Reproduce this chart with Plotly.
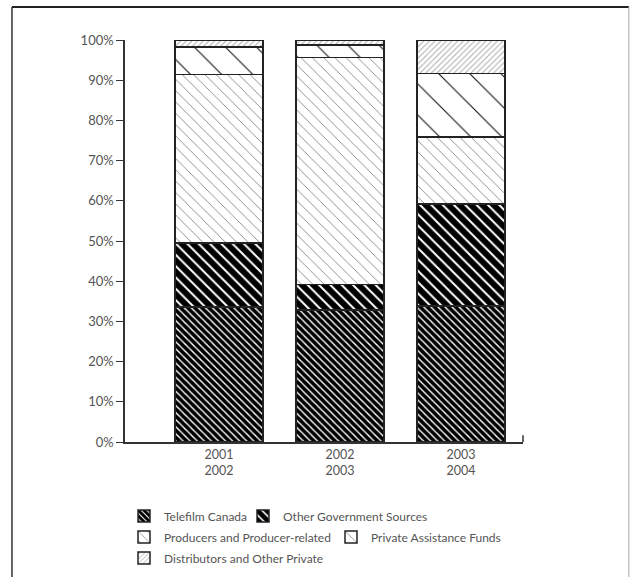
import plotly.graph_objects as go

categories = ["2001<br>2002", "2002<br>2003", "2003<br>2004"]
telefilm = [33.6, 32.8, 33.8]
other_gov = [15.9, 6.4, 25.4]
producers = [41.9, 56.5, 16.7]
private_funds = [6.9, 3.1, 15.8]
distributors = [1.7, 1.2, 8.3]
y_ticks = [0, 10, 20, 30, 40, 50, 60, 70, 80, 90, 100]
y_tick_text = [f"{v}%" for v in y_ticks]

series = [
    ("Telefilm Canada", telefilm, dict(shape="\\", size=5, solidity=0.72, fgcolor="#000000", bgcolor="white", fgopacity=1), "legend"),
    ("Other Government Sources", other_gov, dict(shape="\\", size=8, solidity=0.75, fgcolor="#000000", bgcolor="white", fgopacity=1), "legend2"),
    ("Producers and Producer-related", producers, dict(shape="\\", size=8, solidity=0.1, fgcolor="#777777", bgcolor="white", fgopacity=1), "legend3"),
    ("Private Assistance Funds", private_funds, dict(shape="\\", size=22, solidity=0.05, fgcolor="#111111", bgcolor="white", fgopacity=1), "legend4"),
    ("Distributors and Other Private", distributors, dict(shape="/", size=4, solidity=0.28, fgcolor="#b0b0b0", bgcolor="white", fgopacity=1), "legend5"),
]

fig = go.Figure()
for name, vals, pat, leg in series:
    fig.add_trace(go.Bar(
        x=[0, 1, 2], y=vals, name=name,
        marker=dict(color="white", pattern=pat, line=dict(color="#222222", width=1.5)),
        legend=leg,
    ))

font_family = "Lato, 'Open Sans', Arial, sans-serif"
W, H = 630, 577


def leg(xpx, ypx):
    return dict(orientation="h", xref="container", yref="container",
                x=xpx / W, y=1 - ypx / H, xanchor="left", yanchor="middle",
                font=dict(size=12, color="#555555"), bgcolor="rgba(0,0,0,0)")


fig.update_layout(
    width=W, height=H,
    barmode="stack", bargap=0.273,
    plot_bgcolor="white", paper_bgcolor="white",
    margin=dict(l=125, r=107, t=40, b=135),
    font=dict(family=font_family, size=13, color="#555555"),
    showlegend=True,
    legend=leg(124, 516),
    legend2=leg(243, 516),
    legend3=leg(124, 537),
    legend4=leg(331, 537),
    legend5=leg(124, 558),
    xaxis=dict(
        range=[-0.777, 2.512], tickvals=[0, 1, 2], ticktext=categories,
        showline=True, linecolor="#333333", linewidth=1.5, ticks="",
        showgrid=False, zeroline=False, fixedrange=True,
        tickfont=dict(size=12.5, color="#555555"),
    ),
    yaxis=dict(
        range=[0, 100], tickvals=y_ticks, ticktext=y_tick_text,
        showline=True, linecolor="#333333", linewidth=1.5,
        ticks="outside", ticklen=7, tickcolor="#333333", tickwidth=1.2,
        showgrid=False, zeroline=False, fixedrange=True,
        tickfont=dict(size=13, color="#555555"),
    ),
    shapes=[
        dict(type="line", xref="paper", yref="paper", x0=1, x1=1, y0=0, y1=0.017,
             line=dict(color="#333333", width=1.5)),
        dict(type="line", xref="paper", yref="paper", x0=-0.284, x1=1.266, y0=1.082, y1=1.082,
             line=dict(color="#222222", width=2)),
        dict(type="line", xref="paper", yref="paper", x0=-0.284, x1=-0.284, y0=1.082, y1=-0.34,
             line=dict(color="#333333", width=1.5)),
        dict(type="line", xref="paper", yref="paper", x0=1.266, x1=1.266, y0=1.082, y1=-0.34,
             line=dict(color="#aaaaaa", width=1)),
    ],
)

fig.write_html("out.html", config={"displayModeBar": False},
               post_script="document.body.style.margin='0';")
